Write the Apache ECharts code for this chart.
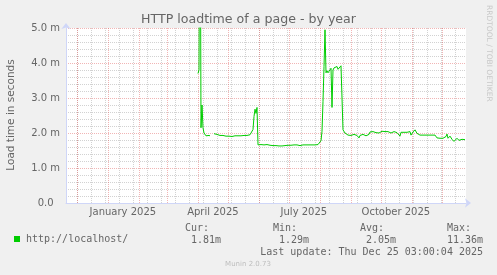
<!DOCTYPE html>
<html><head><meta charset="utf-8">
<script src="https://cdn.jsdelivr.net/npm/echarts@6/dist/echarts.min.js"></script>
<style>html,body{margin:0;padding:0;background:#f0f0f0;}#c{width:497px;height:275px;}</style>
</head><body><div id="c"></div><script>
// ---- data ----
const chartTitle = 'HTTP loadtime of a page - by year';
const yAxisTitle = 'Load time in seconds';
const seriesName = 'http://localhost/';
const axisStart = '2024-11-20T03:00:00Z';
const axisEnd = '2025-12-25T03:00:00Z';
const firstSample = '2025-04-01T03:00:00Z'; // one sample per day from here
const loadMs = [
  3.7, 3.8, 11.36, 2.15, 2.8, 2.15, 2.0, 1.96, 1.92, 1.9, 1.91, 1.93, 1.92, null, null, null,
  1.98,1.96,1.95,1.96,1.94,1.95,1.93,1.94,1.95,1.93,
  1.92,1.93,1.91,1.92,1.90,1.91,1.90,1.89,1.90,1.91,
  1.90,1.92,1.91,1.93,1.92,1.91,1.93,1.92,1.94,1.92,
  1.93,1.92,1.94,1.93,1.92,1.94,1.95,1.96,
  1.97, 2.1, 2.47, 2.68, 2.56, 2.73,
  1.66,1.67,1.66,1.67,1.66,1.67,1.66,1.65,1.66,1.67,
  1.65,1.66,1.65,1.66,1.65,1.64,1.65,1.66,1.64,1.65,
  1.64,1.63,1.64,1.65,1.63,1.64,1.65,1.64,1.66,1.64,
  1.65,1.64,1.66,1.65,1.64,1.65,1.66,1.64,1.65,1.66,
  1.65,1.66,1.64,1.66,1.65,1.66,1.67,1.65,1.66,1.66,
  1.67,1.66,1.65,1.66,1.66,1.67,1.66,1.66,1.67,1.66,
  1.67,1.68,
  1.7, 1.78, 2.05, 2.9, 3.9, 4.95, 3.72, 3.78, 3.72, 3.73, 3.75, 3.85, 2.73, 3.8, 3.86, 3.83, 3.85, 3.9, 3.82, 3.86, 3.85, 3.92, 3.88,
  2.09, 2.04, 2.0, 1.97, 1.95, 1.94, 1.95, 1.94, 1.93, 1.95,
  1.94, 1.96, 1.92, 1.97, 1.93, 1.95, 1.86, 1.93, 1.95, 1.94,
  1.96, 1.93, 1.97, 1.92, 1.95, 1.94, 1.96, 2.03, 2.04, 2.01,
  2.04, 2.02, 2.05, 2.01, 2.03, 2.04, 2.0, 2.04, 2.02, 2.05,
  2.03, 2.01, 2.04, 2.02, 2.03, 2.04, 2.02, 2.04, 2.0, 2.03,
  2.02, 2.04, 2.03, 2.04, 2.01, 2.03, 2.04, 1.91, 2.02, 2.04,
  2.03, 2.02, 2.04, 2.03, 2.02, 2.04, 2.03, 2.04, 1.94, 1.96,
  2.03, 2.08, 2.09, 2.05, 1.99, 1.96, 1.94, 1.94, 1.94, 1.94,
  1.94, 1.94, 1.94, 1.94, 1.94, 1.94, 1.94, 1.94, 1.94, 1.94,
  1.94, 1.94, 1.94, 1.94, 1.86, 1.85, 1.85, 1.85, 1.85, 1.85,
  1.85, 1.85, 1.85, 1.9, 1.97, 1.85, 1.88, 1.91, 1.91, 1.82,
  1.8, 1.76, 1.73, 1.78, 1.85, 1.82, 1.79, 1.8, 1.82, 1.82,
  1.8, 1.79, 1.81
];
const monthStarts = ['2024-12-01','2025-01-01','2025-02-01','2025-03-01','2025-04-01','2025-05-01','2025-06-01',
  '2025-07-01','2025-08-01','2025-09-01','2025-10-01','2025-11-01','2025-12-01'];
const minorGridDates = ['2024-12-01','2024-12-15','2024-12-29','2025-01-12','2025-01-26','2025-02-09','2025-02-23',
  '2025-03-09','2025-03-23','2025-04-06','2025-04-20','2025-05-04','2025-05-18','2025-06-01','2025-06-15',
  '2025-06-29','2025-07-13','2025-07-27','2025-08-10','2025-08-24','2025-09-07','2025-09-21','2025-10-05',
  '2025-10-19','2025-11-02','2025-11-16','2025-11-30','2025-12-14'];
const xLabelDates = ['2025-01-16','2025-04-16','2025-07-16','2025-10-16'];
const xLabelTexts = ['January 2025','April 2025','July 2025','October 2025'];
const yTickLabels = ['0.0  ','1.0 m','2.0 m','3.0 m','4.0 m','5.0 m'];
const statHeads = ['Cur:','Min:','Avg:','Max:'];
const statValues = ['1.81m','1.29m','2.05m','11.36m'];
const lastUpdate = 'Last update: Thu Dec 25 03:00:04 2025';
const footer = 'Munin 2.0.73';
const watermark = 'RRDTOOL / TOBI OETIKER';

// ---- build ----
const DAY = 86400000;
const ts = s => Date.parse(s.length === 10 ? s + 'T00:00:00Z' : s);
const t0 = ts(firstSample);
const seriesData = loadMs.map((v, i) => [t0 + i * DAY, v]);
const labelTs = xLabelDates.map(ts);

const FONT = 'DejaVu Sans';
const MONO = 'DejaVu Sans Mono';
const TXT = '#666666';
const AXISC = '#CFD6F8';
const GRIDC = 'rgba(143,143,143,0.4)';
const MGRIDC = 'rgba(222,79,79,0.42)';

const statX = [185, 273, 360, 447];
const statRight = [221, 309, 396, 483];
const graphics = [
  { type: 'text', x: 11, y: 115, rotation: Math.PI / 2,
    style: { text: yAxisTitle, font: '10.5px ' + FONT, fill: TXT, align: 'center', verticalAlign: 'middle' } },
  { type: 'text', x: 489, y: 5, rotation: -Math.PI / 2,
    style: { text: watermark, font: '7.5px ' + FONT, fill: '#c8c8c8', align: 'left', verticalAlign: 'middle' } },
  { type: 'text', x: 483, y: 252,
    style: { text: lastUpdate, font: '10px ' + MONO, fill: TXT, align: 'right', verticalAlign: 'middle' } },
  { type: 'text', x: 248, y: 264,
    style: { text: footer, font: '7px ' + FONT, fill: '#bdbdbd', align: 'center', verticalAlign: 'middle' } }
];
statHeads.forEach((h, i) => {
  graphics.push({ type: 'text', x: statX[i], y: 228,
    style: { text: h, font: '10px ' + MONO, fill: TXT, align: 'left', verticalAlign: 'middle' } });
  graphics.push({ type: 'text', x: statRight[i], y: 240,
    style: { text: statValues[i], font: '10px ' + MONO, fill: TXT, align: 'right', verticalAlign: 'middle' } });
});

const chart = echarts.init(document.getElementById('c'), null, { renderer: 'canvas' });
chart.setOption({
  backgroundColor: '#f0f0f0',
  animation: false,
  title: { text: chartTitle, left: 'center', top: 13, padding: 0,
    textStyle: { fontFamily: FONT, fontSize: 12.6, fontWeight: 'normal', color: TXT } },
  legend: { data: [seriesName], left: 14, top: 234, padding: 0, icon: 'rect', itemWidth: 6, itemHeight: 6, itemGap: 5,
    textStyle: { fontFamily: MONO, fontSize: 10, color: TXT, padding: [0, 0, 0, 1] }, selectedMode: false },
  grid: { left: 66, top: 28, width: 400, height: 175, show: true, backgroundColor: '#ffffff', borderWidth: 0 },
  xAxis: [
    { type: 'value', min: ts(axisStart), max: ts(axisEnd), position: 'top',
      axisLine: { show: false }, axisLabel: { show: false },
      axisTick: { show: false, customValues: minorGridDates.map(ts) },
      splitLine: { show: true, lineStyle: { color: GRIDC, width: 1, type: [1, 1] } } },
    { type: 'value', min: ts(axisStart), max: ts(axisEnd), position: 'bottom',
      axisLine: { show: true, onZero: false, lineStyle: { color: AXISC, width: 1 }, symbol: ['none', 'arrow'], symbolSize: [7, 6], symbolOffset: [0, 5] },
      axisTick: { show: false, customValues: monthStarts.map(ts) },
      axisLabel: { show: true, customValues: labelTs, margin: 4, fontFamily: FONT, fontSize: 10, color: TXT,
        formatter: v => { let b = 0; labelTs.forEach((t, i) => { if (Math.abs(t - v) < Math.abs(labelTs[b] - v)) b = i; }); return xLabelTexts[b]; } },
      splitLine: { show: true, lineStyle: { color: MGRIDC, width: 1, type: [1, 1] } } }
  ],
  yAxis: { type: 'value', min: 0, max: 5, interval: 1,
    axisLine: { show: true, lineStyle: { color: AXISC, width: 1 }, symbol: ['none', 'arrow'], symbolSize: [7, 6], symbolOffset: [0, 5] },
    axisTick: { show: false },
    axisLabel: { margin: 6, fontFamily: FONT, fontSize: 10, color: TXT, formatter: v => yTickLabels[Math.round(v)] },
    splitLine: { show: true, lineStyle: { color: MGRIDC, width: 1, type: [1, 1] } },
    minorTick: { show: false, splitNumber: 5 },
    minorSplitLine: { show: true, lineStyle: { color: GRIDC, width: 1, type: [1, 1] } } },
  series: [{ name: seriesName, type: 'line', xAxisIndex: 1, data: seriesData, showSymbol: false, symbol: 'none',
    connectNulls: false, clip: true, color: '#00cc00', lineStyle: { width: 1, color: '#00cc00' } }],
  graphic: graphics
});
</script></body></html>
